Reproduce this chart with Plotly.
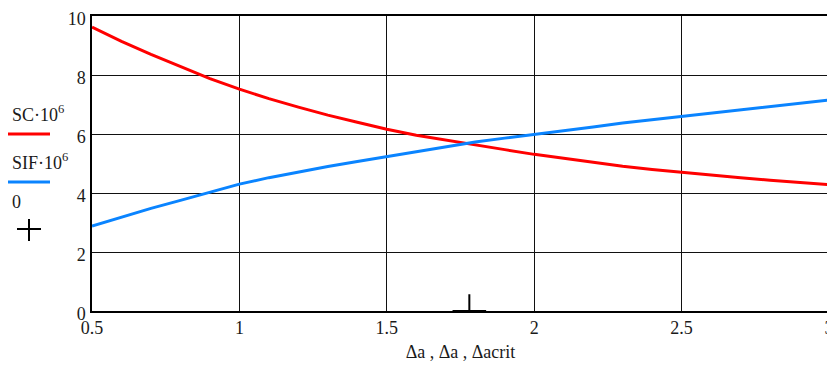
import plotly.graph_objects as go

# ---- data ----
delta_a = [0.5, 0.6, 0.7, 0.8, 0.9, 1.0, 1.1, 1.2, 1.3, 1.4, 1.5, 1.6, 1.7,
           1.8, 1.9, 2.0, 2.1, 2.2, 2.3, 2.4, 2.5, 2.6, 2.7, 2.8, 2.9, 3.0]
sc = [9.62, 9.14, 8.70, 8.28, 7.88, 7.52, 7.20, 6.91, 6.64, 6.40, 6.16, 5.96, 5.79,
      5.63, 5.47, 5.31, 5.17, 5.03, 4.91, 4.80, 4.70, 4.61, 4.52, 4.43, 4.35, 4.28]
sif = [2.88, 3.19, 3.48, 3.75, 4.03, 4.30, 4.52, 4.72, 4.90, 5.07, 5.23, 5.39, 5.57,
       5.73, 5.86, 5.98, 6.11, 6.24, 6.37, 6.48, 6.59, 6.71, 6.82, 6.93, 7.04, 7.15]
acrit = [1.78]
zero = [0]

x_ticks = [0.5, 1, 1.5, 2, 2.5, 3]
x_tick_text = ["0.5", "1", "1.5", "2", "2.5", "3"]
y_ticks = [0, 2, 4, 6, 8, 10]
legend_labels = ["SC·10<sup>6</sup>", "SIF·10<sup>6</sup>", "0"]
x_title = "Δa , Δa , Δacrit"

RED = "#ff0000"
BLUE = "#0a84ff"
FONT = "Liberation Serif"
TXT = "#1a1a1a"

# page body has an 8px default margin -> compensate
OFF = 8
W, H = 835 - OFF, 369 - OFF
L, R, T, B = 92 - OFF, 6, 16 - OFF, 58
PW, PH = W - L - R, H - T - B
PLOT_LEFT, PLOT_BOTTOM = 92, 311  # page pixels


def px(x):
    return (x - PLOT_LEFT) / PW


def py(y):
    return (PLOT_BOTTOM - y) / PH


fig = go.Figure()
fig.add_trace(go.Scatter(x=delta_a, y=sc, mode="lines",
                         line=dict(color=RED, width=3), showlegend=False))
fig.add_trace(go.Scatter(x=delta_a, y=sif, mode="lines",
                         line=dict(color=BLUE, width=3), showlegend=False))
fig.add_trace(go.Scatter(x=acrit, y=zero, mode="markers", cliponaxis=True,
                         marker=dict(symbol="cross-thin", size=24,
                                     line=dict(color="black", width=2)),
                         showlegend=False))

axis_common = dict(showline=True, linecolor="black", linewidth=1.5, mirror=True,
                   showgrid=True, gridcolor="#111111", gridwidth=1.4,
                   zeroline=False, ticks="", automargin=False,
                   ticklabeloverflow="allow",
                   tickfont=dict(family=FONT, size=18, color=TXT))

fig.update_xaxes(range=[0.5, 3], tickvals=x_ticks, ticktext=x_tick_text,
                 title=dict(text=x_title, font=dict(family=FONT, size=18, color=TXT),
                            standoff=8),
                 **axis_common)
fig.update_yaxes(range=[0, 10], tickvals=y_ticks, ticklabelstandoff=1,
                 ticklabelshift=3, **axis_common)

# Mathcad-style legend at left
ann = [
    dict(x=px(10), y=py(127), text=legend_labels[0]),
    dict(x=px(10), y=py(175), text=legend_labels[1]),
    dict(x=px(10), y=py(214), text=legend_labels[2]),
]
for a in ann:
    a.update(xref="paper", yref="paper", xanchor="left", yanchor="bottom",
             showarrow=False, font=dict(family=FONT, size=18, color=TXT))
fig.update_layout(annotations=ann)

shapes = [
    dict(type="line", xref="paper", yref="paper", x0=px(8), x1=px(50), y0=py(134), y1=py(134),
         line=dict(color=RED, width=3)),
    dict(type="line", xref="paper", yref="paper", x0=px(8), x1=px(50), y0=py(182), y1=py(182),
         line=dict(color=BLUE, width=3)),
    dict(type="line", xref="paper", yref="paper", x0=px(17), x1=px(41), y0=py(229), y1=py(229),
         line=dict(color="black", width=2)),
    dict(type="line", xref="paper", yref="paper", x0=px(29), x1=px(29), y0=py(219), y1=py(241),
         line=dict(color="black", width=2)),
]
fig.update_layout(shapes=shapes)

fig.update_layout(width=W, height=H, margin=dict(l=L, r=R, t=T, b=B, autoexpand=False),
                  paper_bgcolor="white", plot_bgcolor="white")

fig.write_html("out.html")
